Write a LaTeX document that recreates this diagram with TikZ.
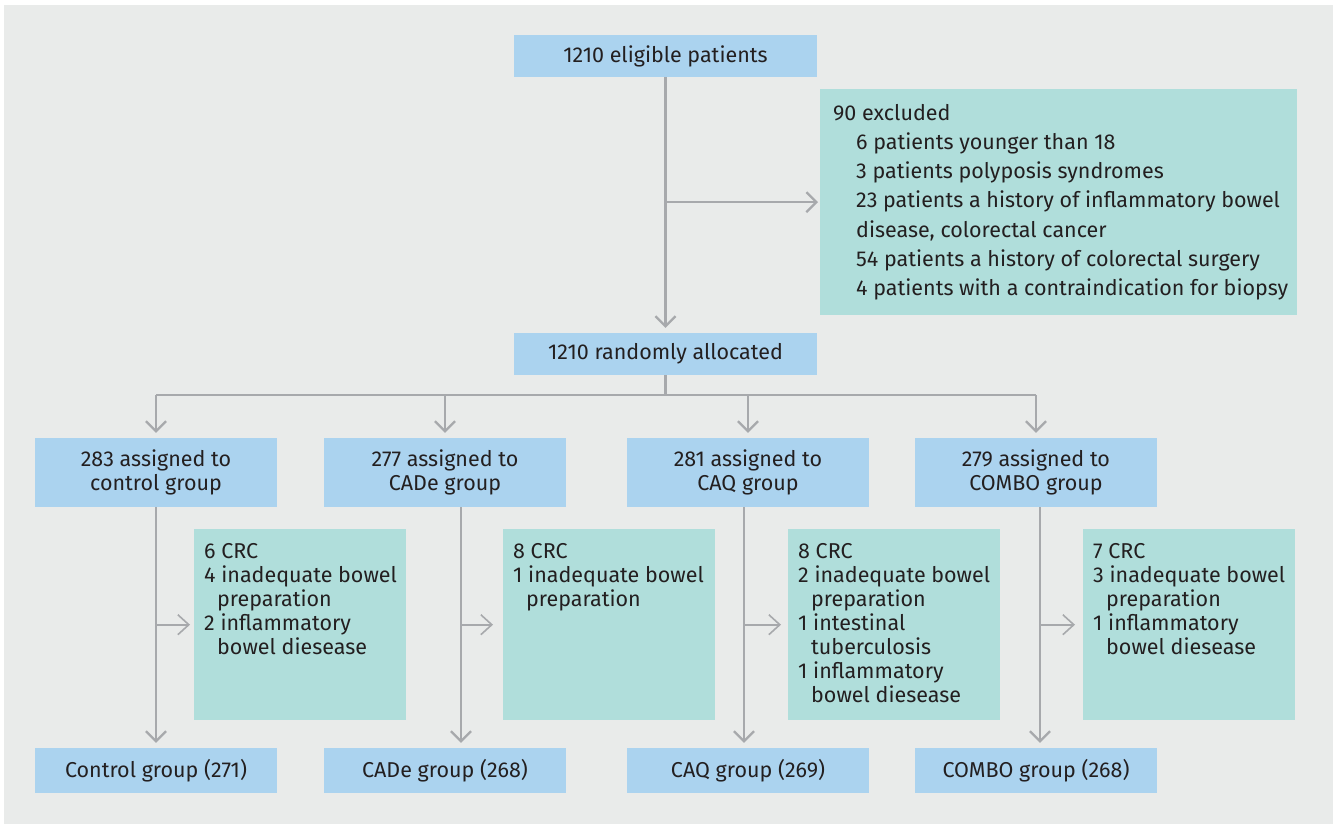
\documentclass[tikz,border=0pt]{standalone}
\usepackage{fontspec}
\setmainfont{Fira Sans}[Scale=1]
\usetikzlibrary{arrows.meta}
\definecolor{bgc}{RGB}{233,235,234}
\definecolor{bluec}{RGB}{171,211,239}
\definecolor{tealc}{RGB}{176,222,219}
\definecolor{linec}{RGB}{167,169,172}
\definecolor{txtc}{RGB}{35,31,32}
\tikzset{
  txt/.style={font=\fontsize{21.5}{24}\selectfont, text=txtc},
  bluebox/.style={fill=bluec, draw=none, inner sep=0pt, minimum width=242pt, minimum height=#1, txt, align=center},
  tealbox/.style={fill=tealc, draw=none, inner sep=0pt, anchor=north west},
  inner/.style={txt, inner sep=0pt, anchor=north west, align=left},
  conn/.style={draw=linec, line width=2.3pt},
  arr/.style={conn, -{Straight Barb[length=10pt,width=20pt,line width=2.3pt]}, shorten >=5pt},
  sarr/.style={draw=linec, line width=1.6pt, -{Straight Barb[length=11pt,width=20pt,line width=1.6pt]}},
}
\newcommand{\fl}{\rule{0pt}{16pt}}
\begin{document}
\begin{tikzpicture}[x=1pt,y=-1pt]
\useasboundingbox (0,0) rectangle (1333,824);
\fill[bgc] (4,5) rectangle (1333,824);

% top
\node[bluebox=42pt, minimum width=303pt] (elig) at (665.5,56) {1210 eligible patients};
\node[tealbox, minimum width=477pt, minimum height=226pt] (exc) at (820,89) {};
\node[txt, inner sep=0pt, anchor=north west, align=left, font=\fontsize{21.5}{29.2}\selectfont] (exct) at (833,104) {\fl 90 excluded\\
\hspace*{23pt}6 patients younger than 18\\
\hspace*{23pt}3 patients polyposis syndromes\\
\hspace*{23pt}23 patients a history of inflammatory bowel\\
\hspace*{23pt}disease, colorectal cancer\\
\hspace*{23pt}54 patients a history of colorectal surgery\\
\hspace*{23pt}4 patients with a contraindication for biopsy};
\node[bluebox=42pt, minimum width=303pt] (rand) at (665.5,354) {1210 randomly allocated};

% assigned
\node[bluebox=69pt] (a1) at (156,472.5) {283 assigned to\\control group};
\node[bluebox=69pt] (a2) at (445,472.5) {277 assigned to\\CADe group};
\node[bluebox=69pt] (a3) at (748,472.5) {281 assigned to\\CAQ group};
\node[bluebox=69pt] (a4) at (1036,472.5) {279 assigned to\\COMBO group};

% side boxes
\node[tealbox, minimum width=212pt, minimum height=191pt] (s1) at (194,529) {};
\node[tealbox, minimum width=212pt, minimum height=191pt] (s2) at (503,529) {};
\node[tealbox, minimum width=212pt, minimum height=191pt] (s3) at (788,529) {};
\node[tealbox, minimum width=212pt, minimum height=191pt] (s4) at (1083,529) {};
\node[inner] (s1t) at (204,542) {\fl 6 CRC\\4 inadequate bowel\\\hspace*{13pt}preparation\\2 inflammatory\\\hspace*{13pt}bowel diesease};
\node[inner] (s2t) at (513,542) {\fl 8 CRC\\1 inadequate bowel\\\hspace*{13pt}preparation};
\node[inner] (s3t) at (798,542) {\fl 8 CRC\\2 inadequate bowel\\\hspace*{13pt}preparation\\1 intestinal\\\hspace*{13pt}tuberculosis\\1 inflammatory\\\hspace*{13pt}bowel diesease};
\node[inner] (s4t) at (1093,542) {\fl 7 CRC\\3 inadequate bowel\\\hspace*{13pt}preparation\\1 inflammatory\\\hspace*{13pt}bowel diesease};

% final
\node[bluebox=45pt] (f1) at (156,770.5) {Control group (271)};
\node[bluebox=45pt] (f2) at (445,770.5) {CADe group (268)};
\node[bluebox=45pt] (f3) at (748,770.5) {CAQ group (269)};
\node[bluebox=45pt] (f4) at (1036,770.5) {COMBO group (268)};

% coordinates
\coordinate (split) at (665.5,395);
\coordinate (v1) at (156,0);
\coordinate (v2) at (461,0);
\coordinate (v3) at (744,0);
\coordinate (v4) at (1040,0);

% connectors
\draw[arr] (elig.south) -- (rand.north);
\draw[arr, shorten >=2pt] (elig.south |- exc.west) -- (exc.west);
\draw[conn] (rand.south) -- (split);
\draw[conn] (a1.north |- split) -- (a4.north |- split);
\draw[arr] (a1.north |- split) -- (a1.north);
\draw[arr] (a2.north |- split) -- (a2.north);
\draw[arr] (a3.north |- split) -- (a3.north);
\draw[arr] (a4.north |- split) -- (a4.north);

\draw[arr] (v1 |- a1.south) -- (v1 |- f1.north);
\draw[arr] (v2 |- a2.south) -- (v2 |- f2.north);
\draw[arr] (v3 |- a3.south) -- (v3 |- f3.north);
\draw[arr] (v4 |- a4.south) -- (v4 |- f4.north);

\draw[sarr, shorten >=4pt] (v1 |- s1.west) -- (s1.west);
\draw[sarr, shorten >=10pt] (v2 |- s2.west) -- (s2.west);
\draw[sarr, shorten >=7pt] (v3 |- s3.west) -- (s3.west);
\draw[sarr, shorten >=8pt] (v4 |- s4.west) -- (s4.west);
\end{tikzpicture}
\end{document}
